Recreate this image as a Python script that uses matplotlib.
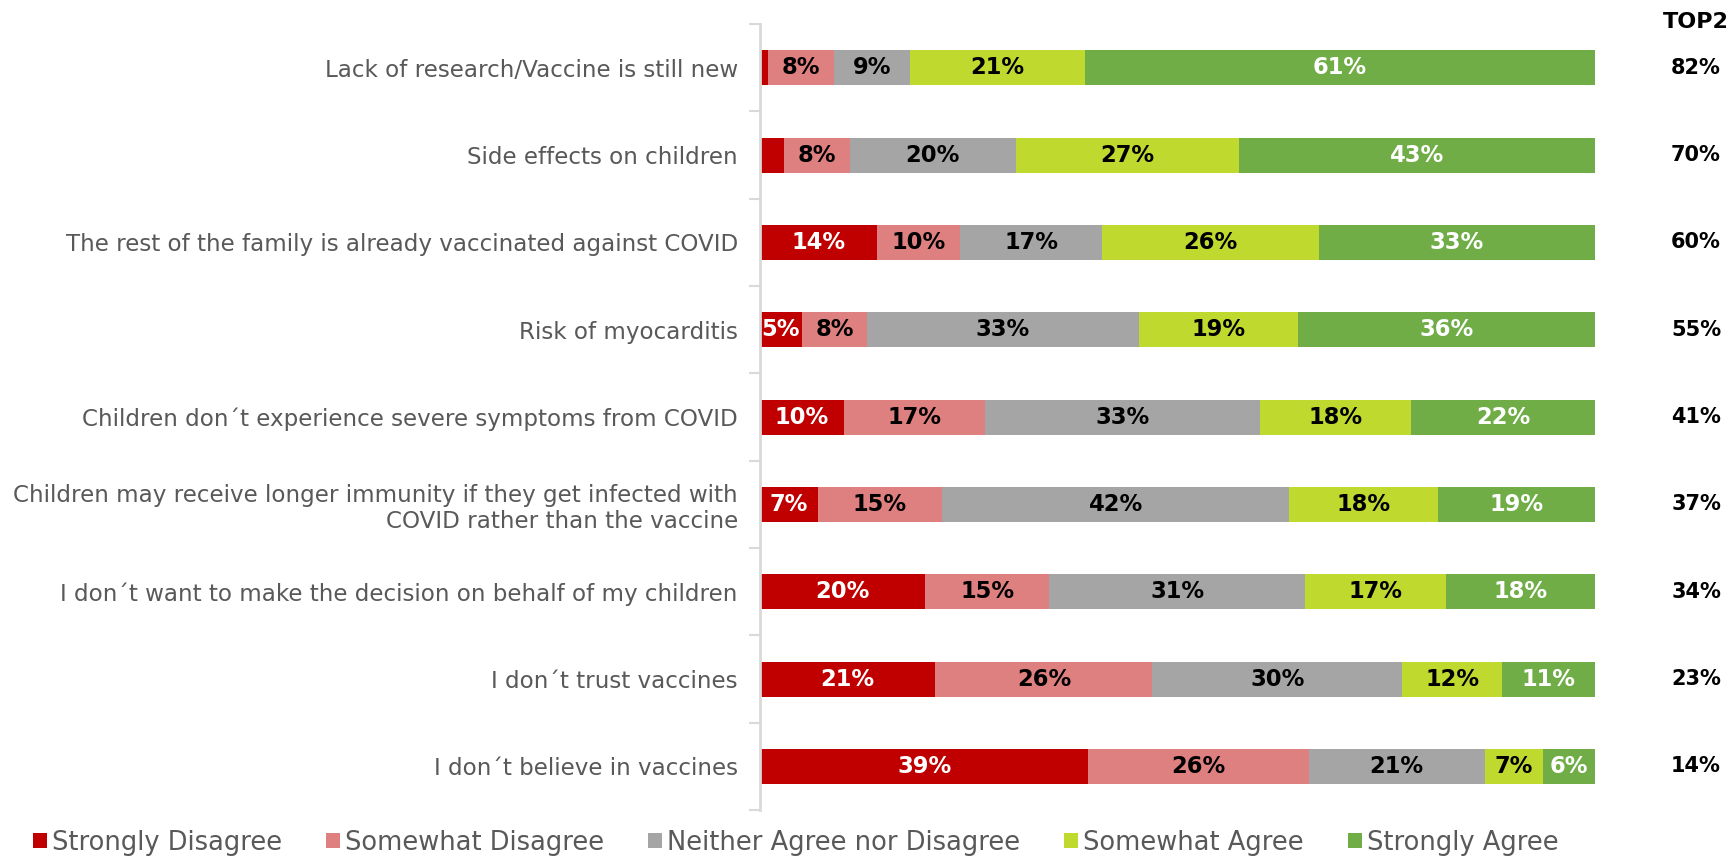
import matplotlib.pyplot as plt
import numpy as np

plt.rcParams['font.family'] = ['DejaVu Sans']

categories = [
    "Lack of research/Vaccine is still new",
    "Side effects on children",
    "The rest of the family is already vaccinated against COVID",
    "Risk of myocarditis",
    "Children don´t experience severe symptoms from COVID",
    "Children may receive longer immunity if they get infected with\nCOVID rather than the vaccine",
    "I don´t want to make the decision on behalf of my children",
    "I don´t trust vaccines",
    "I don´t believe in vaccines",
]
series = ["Strongly Disagree", "Somewhat Disagree", "Neither Agree nor Disagree",
          "Somewhat Agree", "Strongly Agree"]
strongly_disagree = [0.9, 2.9, 14.0, 5.0, 10.0, 6.9, 19.8, 21.0, 39.3]
somewhat_disagree = [8.0, 7.9, 10.0, 7.8, 16.9, 14.9, 14.8, 26.0, 26.4]
neither = [9.0, 19.8, 16.9, 32.6, 33.0, 41.6, 30.7, 29.9, 21.1]
somewhat_agree = [21.0, 26.8, 26.0, 19.0, 18.1, 17.8, 16.9, 12.0, 7.0]
strongly_agree = [61.1, 42.6, 33.1, 35.6, 22.0, 18.9, 17.8, 11.1, 6.2]
top2 = ["82%", "70%", "60%", "55%", "41%", "37%", "34%", "23%", "14%"]

colors = ["#C00000", "#DF8080", "#A5A5A5", "#C0D92F", "#70AD47"]
text_colors = ["white", "black", "black", "black", "white"]

fig = plt.figure(figsize=(17.29, 8.59), dpi=100)
ax = fig.add_axes([0.4396, 0.057, 0.4829, 0.915])

y = np.arange(len(categories))
left = np.zeros(len(categories))
for vals, col, tcol, name in zip([strongly_disagree, somewhat_disagree, neither, somewhat_agree, strongly_agree],
                                 colors, text_colors, series):
    vals = np.array(vals)
    ax.barh(y, vals, left=left, height=0.4, color=col, label=name, edgecolor='none')
    for yi, v, l in zip(y, vals, left):
        if v >= 4:
            ax.text(l + v / 2, yi, "{}%".format(int(round(v))), ha='center', va='center',
                    color=tcol, fontsize=16.3, fontweight='bold')
    left += vals

ax.set_xlim(0, 100)
ax.set_ylim(len(categories) - 0.5, -0.5)
ax.set_yticks(y)
ax.set_yticklabels(categories, fontsize=16.6, color='#595959')
ax.set_yticks(np.arange(len(categories) + 1) - 0.5, minor=True)
ax.tick_params(axis='y', which='major', length=0, pad=16)
ax.tick_params(axis='y', which='minor', length=8, width=1.5, color='#D9D9D9')
ax.set_xticks([])
for s in ['top', 'right', 'bottom']:
    ax.spines[s].set_visible(False)
ax.spines['left'].set_color('#D9D9D9')
ax.spines['left'].set_linewidth(2)

for yi, t in zip(y, top2):
    ax.text(1.121, yi, t, transform=ax.get_yaxis_transform(), ha='center', va='center',
            fontsize=15, fontweight='bold', color='black')
fig.text(0.981, 0.974, "TOP2", ha='center', va='center', fontsize=16, fontweight='bold')

leg = fig.legend(loc='center left', bbox_to_anchor=(0.013, 0.019), ncol=5, frameon=False,
                 fontsize=18.5, handlelength=0.55, handleheight=0.55, handletextpad=0.2,
                 columnspacing=1.7, borderaxespad=0)
for t in leg.get_texts():
    t.set_color('#595959')

fig.savefig("out.png", dpi=100)
